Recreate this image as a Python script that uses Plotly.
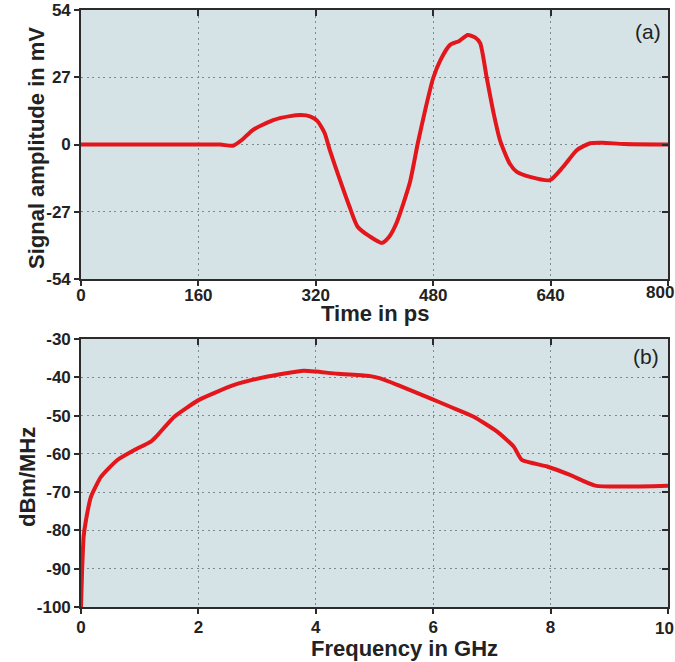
import plotly.graph_objects as go

# Panel (a): time-domain pulse
time_ps = [0, 150, 190, 207, 220, 234, 262, 285, 300, 312, 322, 332, 339, 353, 366, 377,
           394, 410, 420, 430, 448, 459, 470, 480, 490, 503, 515, 527, 537, 544, 553, 562,
           571, 584, 594, 612, 639, 657, 676, 694, 711, 740, 800]
amp_mv = [0, 0, 0, -0.5, 2, 5.8, 9.8, 11.4, 11.8, 11.3, 9.5, 4.6, -2.2, -14.3, -25, -33,
          -37, -39.5, -37, -31.5, -15.5, 0.5, 15, 26.7, 34, 40, 41.5, 44, 43, 40.7, 26.7, 13,
          1.8, -7.5, -11, -13, -14.3, -9, -2.2, 0.5, 0.7, 0.2, 0]

# Panel (b): spectrum
freq_ghz = [0.0, 0.017, 0.045, 0.085, 0.17, 0.34, 0.62, 0.91, 1.19, 1.28, 1.59, 2.01, 2.61,
            3.18, 3.79, 4.0, 4.37, 4.93, 5.1, 5.39, 5.95, 6.29, 6.69, 7.09, 7.37, 7.51, 7.94,
            8.33, 8.76, 10.0]
psd_dbm = [-100, -91.2, -81.6, -77.3, -71.2, -66, -61.6, -59, -56.8, -55.5, -50.3, -45.9, -42,
           -39.8, -38.3, -38.5, -39.1, -39.7, -40.3, -42, -45.5, -47.7, -50.3, -54.2, -58.1,
           -61.6, -63.3, -65.5, -68.3, -68.3]

time_ticks = [0, 160, 320, 480, 640, 800]
time_labels = ["0", "160", "320", "480", "640", "800"]
amp_ticks = [-54, -27, 0, 27, 54]
amp_labels = ["-54", "-27", "0", "27", "54"]
freq_ticks = [0, 2, 4, 6, 8, 10]
freq_labels = ["0", "2", "4", "6", "8", "10"]
psd_ticks = [-100, -90, -80, -70, -60, -50, -40, -30]
psd_labels = ["-100", "-90", "-80", "-70", "-60", "-50", "-40", "-30"]

RED = "#e3161b"
BG = "#d6e3e6"
GRID = "#7d8b90"
AX = "#2b2b2b"
FONT = "Liberation Sans, Arial, sans-serif"
TXT = "#222222"

W, H = 675, 662
L, R, T, B = 81, 7, 10, 55
PW, PH = W - L - R, H - T - B


def px_x(px):
    return (px - L) / PW


def px_y(py):
    return (H - B - py) / PH


yd_a = [px_y(279), px_y(10)]
yd_b = [px_y(607), px_y(339)]

fig = go.Figure()
fig.add_trace(go.Scatter(x=time_ps, y=amp_mv, mode="lines", xaxis="x", yaxis="y",
                         line=dict(color=RED, width=4, shape="spline", smoothing=0.6),
                         showlegend=False))
fig.add_trace(go.Scatter(x=freq_ghz, y=psd_dbm, mode="lines", xaxis="x2", yaxis="y2",
                         line=dict(color=RED, width=4, shape="spline", smoothing=0.5),
                         showlegend=False))

tickfont = dict(family=FONT, size=17, color=TXT, weight="bold")
common = dict(showgrid=True, gridcolor=GRID, gridwidth=1.3, griddash="2px,3.5px",
              zeroline=False, showline=True, linecolor=AX, linewidth=1.6,
              ticks="outside", ticklen=5, tickcolor=AX, tickwidth=1.5,
              tickfont=tickfont, mirror=True, automargin=False)

# last x labels are drawn as right-aligned annotations so they stay inside the page
fig.update_layout(
    width=W, height=H,
    margin=dict(l=L, r=R, t=T, b=B),
    paper_bgcolor="white", plot_bgcolor=BG,
    font=dict(family=FONT),
    xaxis=dict(domain=[0, 1], anchor="y", range=[0, 800], tickvals=time_ticks,
               ticktext=time_labels[:-1] + [""], ticklabelstandoff=-5, **common),
    yaxis=dict(domain=yd_a, anchor="x", range=[-54, 54], tickvals=amp_ticks,
               ticktext=amp_labels, **common),
    xaxis2=dict(domain=[0, 1], anchor="y2", range=[0, 10], tickvals=freq_ticks,
                ticktext=freq_labels[:-1] + [""], ticklabelstandoff=-1, **common),
    yaxis2=dict(domain=yd_b, anchor="x2", range=[-100, -30], tickvals=psd_ticks,
                ticktext=psd_labels, **common),
)

# inside ticks on top/right edges
inner = dict(showgrid=False, zeroline=False, showticklabels=False, ticks="inside",
             ticklen=6, tickcolor=AX, tickwidth=1.5, showline=False, automargin=False)
fig.update_layout(
    xaxis3=dict(overlaying="x", side="top", anchor="y", range=[0, 800], tickvals=time_ticks, **inner),
    yaxis3=dict(overlaying="y", side="right", anchor="x", range=[-54, 54], tickvals=amp_ticks, **inner),
    xaxis4=dict(overlaying="x2", side="top", anchor="y2", range=[0, 10], tickvals=freq_ticks, **inner),
    yaxis4=dict(overlaying="y2", side="right", anchor="x2", range=[-100, -30], tickvals=psd_ticks, **inner),
)
fig.add_trace(go.Scatter(x=[None], y=[None], xaxis="x3", yaxis="y3", showlegend=False, hoverinfo="skip"))
fig.add_trace(go.Scatter(x=[None], y=[None], xaxis="x4", yaxis="y4", showlegend=False, hoverinfo="skip"))

title_font = dict(family=FONT, size=22, color=TXT)
ann = [
    dict(text="<b>Signal amplitude in mV</b>", x=px_x(36), y=px_y(148), textangle=-90,
         font=title_font),
    dict(text="<b>dBm/MHz</b>", x=px_x(27), y=px_y(477), textangle=-90, font=title_font),
    dict(text="<b>Time in ps</b>", x=px_x(375), y=px_y(313), font=title_font),
    dict(text="<b>Frequency in GHz</b>", x=px_x(404), y=px_y(648), font=title_font),
    dict(text="(a)", x=px_x(648), y=px_y(31), font=dict(family=FONT, size=21, color=TXT)),
    dict(text="(b)", x=px_x(646), y=px_y(356), font=dict(family=FONT, size=21, color=TXT)),
    dict(text="<b>" + time_labels[-1] + "</b>", x=px_x(675), y=px_y(292), xanchor="right",
         font=dict(family=FONT, size=17, color=TXT)),
    dict(text="<b>" + freq_labels[-1] + "</b>", x=px_x(675), y=px_y(628), xanchor="right",
         font=dict(family=FONT, size=17, color=TXT)),
]
for a in ann:
    a.setdefault("xanchor", "center")
    fig.add_annotation(xref="paper", yref="paper", showarrow=False,
                       yanchor="middle", borderpad=0, **a)

fig.write_html("out.html", config={"displayModeBar": False},
               post_script="document.body.style.margin='0';document.body.style.overflow='hidden';")
